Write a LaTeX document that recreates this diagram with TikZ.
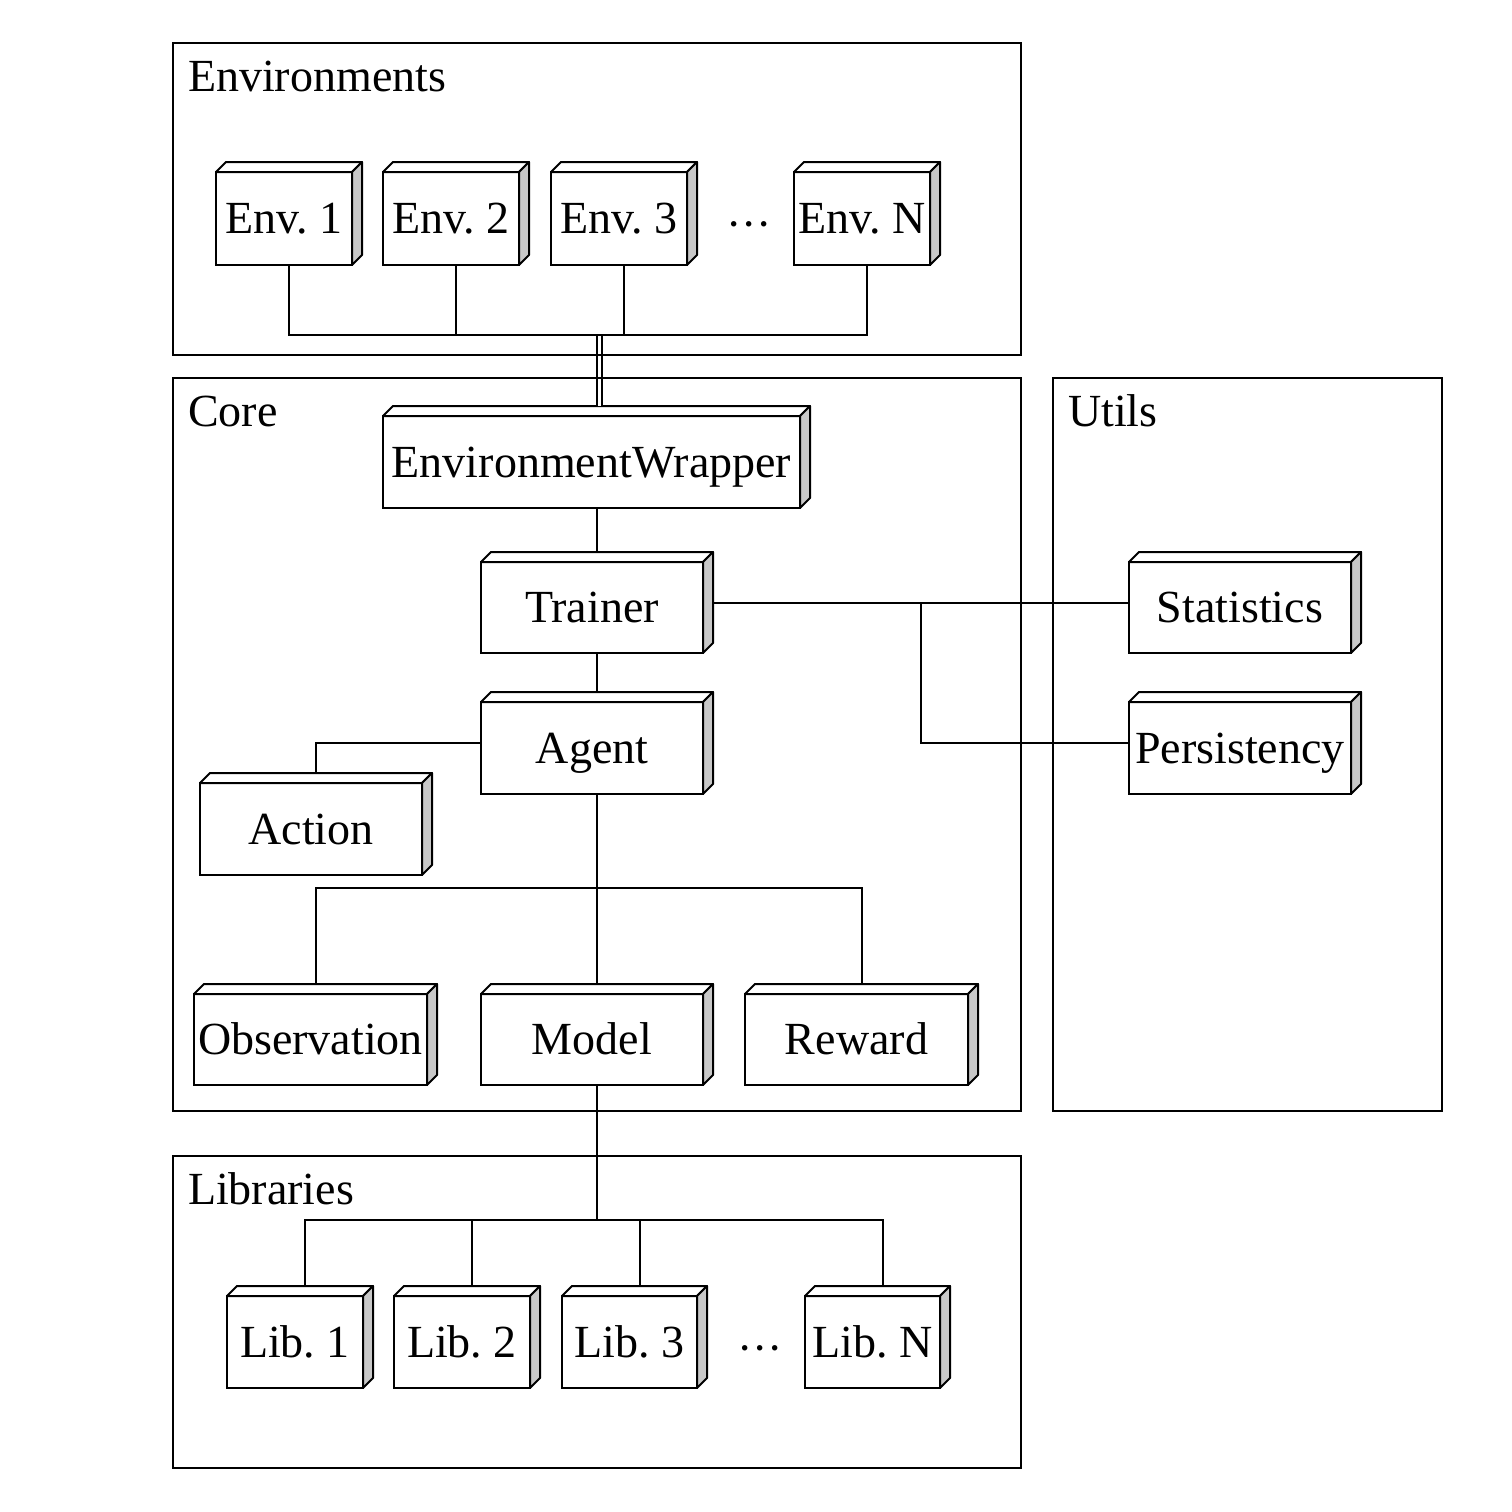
\documentclass[tikz,border=0pt]{standalone}
\usepackage{fontspec}
\setmainfont{Liberation Serif}
\definecolor{sidegray}{RGB}{200,200,200}
\tikzset{
  cubebox/.style={draw, fill=white, inner sep=0pt, outer sep=0pt,
    text height=15.2pt, text depth=0pt, font=\fontsize{23}{27}\selectfont},
  areabox/.style={draw, inner sep=0pt, outer sep=0pt},
  areatitle/.style={anchor=base west, inner sep=0pt, font=\fontsize{23}{27}\selectfont},
  dotstext/.style={anchor=base, inner sep=0pt, font=\fontsize{23}{27}\selectfont},
}
\newcommand\mkcube[6]{%
  \node[cubebox, minimum width={(#4-#2)*0.5pt}, minimum height={(#5-#3)*0.5pt}]
    (#1) at ({(#2+#4)/2},{(#3+#5)/2}) {#6};
  \draw[fill=white, line join=round] (#1.north west) -- ++(10,-10) -- ([shift={(10,-10)}]#1.north east) -- (#1.north east) -- cycle;
  \draw[fill=sidegray, line join=round] (#1.north east) -- ++(10,-10) -- ([shift={(10,-10)}]#1.south east) -- (#1.south east) -- cycle;
}
\newcommand\mkarea[5]{%
  \node[areabox, minimum width={(#4-#2)*0.5pt}, minimum height={(#5-#3)*0.5pt}]
    (#1) at ({(#2+#4)/2},{(#3+#5)/2}) {};
}
\begin{document}
\frenchspacing
\begin{tikzpicture}[x=0.5pt, y=-0.5pt, line width=1pt]
\useasboundingbox (0,0) rectangle (1512,1512);
% cubes
\mkcube{env1}{216}{172}{352}{265}{Env. 1}
\mkcube{env2}{383}{172}{519}{265}{Env. 2}
\mkcube{env3}{551}{172}{687}{265}{Env. 3}
\mkcube{envN}{794}{172}{930}{265}{Env. N}
\mkcube{ew}{383}{416}{800}{508}{EnvironmentWrapper}
\mkcube{trainer}{481}{562}{703}{653}{Trainer}
\mkcube{agent}{481}{702}{703}{794}{Agent}
\mkcube{action}{200}{783}{422}{875}{Action}
\mkcube{stat}{1129}{562}{1351}{653}{Statistics}
\mkcube{pers}{1129}{702}{1351}{794}{Persistency}
\mkcube{obs}{194}{994}{427}{1085}{Observation}
\mkcube{model}{481}{994}{703}{1085}{Model}
\mkcube{reward}{745}{994}{968}{1085}{Reward}
\mkcube{lib1}{227}{1296}{363}{1388}{Lib. 1}
\mkcube{lib2}{394}{1296}{530}{1388}{Lib. 2}
\mkcube{lib3}{562}{1296}{697}{1388}{Lib. 3}
\mkcube{libN}{805}{1296}{940}{1388}{Lib. N}
% dots
\node[dotstext] (envdots) at (749,239) {···};
\node[dotstext] (libdots) at (760,1363) {···};
% double connector
\coordinate (envbus) at (599.5,335);
\coordinate (ewtop) at ([xshift=4pt,yshift=5pt]ew.north);
\draw[double, double distance=1.5pt] (envbus) -- (ewtop);
% containers
\mkarea{envarea}{173}{43}{1021}{355}
\mkarea{corearea}{173}{378}{1021}{1111}
\mkarea{utilsarea}{1053}{378}{1442}{1111}
\mkarea{libarea}{173}{1156}{1021}{1468}
\node[areatitle] (envtitle) at (187,91) {Environments};
\node[areatitle] (coretitle) at (187,426) {Core};
\node[areatitle] (utilstitle) at (1067,426) {Utils};
\node[areatitle] (libtitle) at (187,1204) {Libraries};
% environment bus
\foreach \n in {env1,env2,env3,envN} \coordinate (\n-c) at ([xshift=2.5pt]\n.south);
\draw (env1-c) |- (envN-c |- envbus) -- (envN-c);
\draw (env2-c) -- (env2-c |- envbus);
\draw (env3-c) -- (env3-c |- envbus);
% core
\coordinate (trtop) at ([xshift=2.5pt,yshift=5pt]trainer.north);
\draw (trtop) -- (trtop |- ew.south);
\draw ([xshift=2.5pt]trainer.south) -- ([xshift=2.5pt,yshift=5pt]agent.north);
\coordinate (trright) at ([xshift=5pt,yshift=2.5pt]trainer.east);
\draw (trright) -- (trright -| stat.west);
\coordinate (split) at (921,602);
\draw (split) |- ([yshift=2.5pt]pers.west);
\draw ([yshift=2.5pt]agent.west) -| ([xshift=2.5pt,yshift=5pt]action.north);
\draw ([xshift=2.5pt]agent.south) -- ([xshift=2.5pt,yshift=5pt]model.north);
\coordinate (obstop) at ([xshift=2.5pt,yshift=5pt]obs.north);
\coordinate (rewtop) at ([xshift=2.5pt,yshift=5pt]reward.north);
\coordinate (corebus) at (597,888);
\draw (obstop) |- (corebus) -| (rewtop);
% libraries
\coordinate (libbus) at (597,1220);
\draw ([xshift=2.5pt]model.south) -- (libbus);
\foreach \n in {lib1,lib2,lib3,libN} \coordinate (\n-c) at ([xshift=5pt,yshift=5pt]\n.north);
\draw (lib1-c) |- (libN-c |- libbus) -- (libN-c);
\draw (lib2-c) -- (lib2-c |- libbus);
\draw (lib3-c) -- (lib3-c |- libbus);
\end{tikzpicture}
\end{document}
